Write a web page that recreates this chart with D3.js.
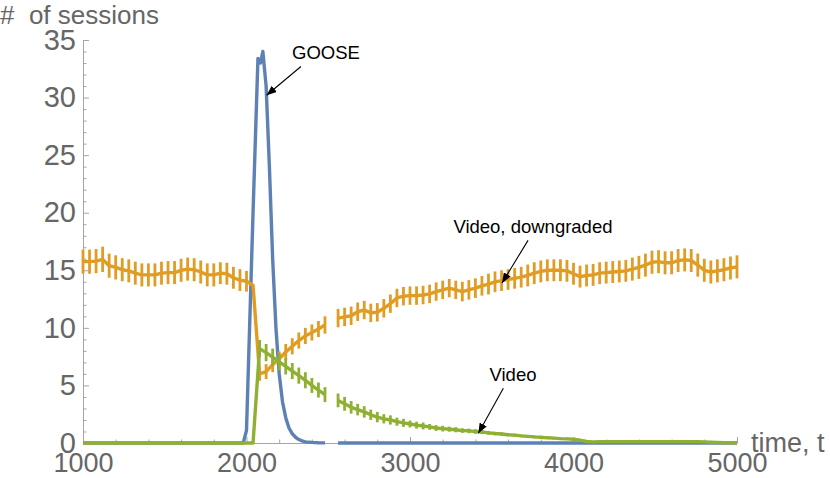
<!DOCTYPE html>
<html><head><meta charset="utf-8">
<script src="https://cdn.jsdelivr.net/npm/d3@7/dist/d3.min.js"></script>
<style>body{margin:0;background:#fff}svg{display:block}</style>
</head><body>
<svg id="chart" width="830" height="478"></svg>
<script>
// ---- data ----
const times = d3.range(1000, 5001, 40); // sampling grid of the simulation (101 points)

const downgradedValues = [
  15.75, 15.75, 15.8, 15.95, 15.4, 15.25, 15.05, 14.95, 14.75, 14.6,
  14.6, 14.6, 14.75, 14.8, 14.8, 15.0, 15.1, 15.05, 14.85, 14.6,
  14.6, 14.75, 14.7, 14.35, 14.15, 14.05, 13.7, 6.0, 6.2, 6.8,
  7.3, 7.9, 8.4, 8.9, 9.3, 9.6, 9.9, 10.25, null, 10.85,
  10.95, 11.05, 11.4, 11.55, 11.3, 11.35, 11.7, 12.1, 12.6, 12.75,
  12.8, 12.8, 12.85, 12.95, 13.15, 13.3, 13.45, 13.3, 13.15, 13.3,
  13.45, 13.65, 13.8, 14.0, 14.1, 14.2, 14.3, 14.4, 14.55, 14.75,
  14.9, 15.0, 15.0, 15.0, 14.95, 14.7, 14.45, 14.55, 14.6, 14.75,
  14.8, 14.85, 14.9, 14.95, 15.1, 15.25, 15.45, 15.7, 15.75, 15.65,
  15.65, 15.85, 15.9, 15.85, 15.45, 15.0, 14.85, 14.95, 15.05, 15.2,
  15.3
];
const downgradedErrors = [
  1.05, 1.05, 1.05, 1.1, 1.05, 1.05, 1.0, 1.0, 1.0, 1.0,
  1.0, 1.0, 1.0, 1.0, 1.0, 1.0, 1.0, 1.0, 1.0, 1.0,
  1.0, 0.95, 0.95, 0.95, 0.95, 0.9, 0, 0.6, 0.65, 0.65,
  0.65, 0.7, 0.7, 0.7, 0.7, 0.7, 0.7, 0.75, 0, 0.8,
  0.8, 0.8, 0.8, 0.8, 0.8, 0.8, 0.8, 0.8, 0.8, 0.8,
  0.8, 0.8, 0.8, 0.8, 0.8, 0.8, 0.8, 0.8, 0.85, 0.85,
  0.85, 0.85, 0.9, 0.9, 0.9, 0.9, 0.9, 0.9, 0.95, 0.95,
  0.95, 0.95, 0.95, 0.95, 0.95, 0.95, 0.95, 0.95, 0.95, 0.95,
  0.95, 0.95, 0.95, 0.95, 1.0, 1.0, 1.0, 1.0, 1.0, 1.0,
  1.0, 1.0, 1.0, 1.0, 1.0, 1.0, 1.0, 1.0, 1.0, 1.0,
  1.0
];
const videoValues = [
  0, 0, 0, 0, 0, 0, 0, 0, 0, 0,
  0, 0, 0, 0, 0, 0, 0, 0, 0, 0,
  0, 0, 0, 0, 0, 0, 0, 8.2, 7.85, 7.45,
  7.05, 6.65, 6.25, 5.85, 5.45, 5.0, 4.6, 4.2, null, 3.7,
  3.4, 3.1, 2.9, 2.7, 2.45, 2.25, 2.1, 2.0, 1.85, 1.75,
  1.65, 1.55, 1.48, 1.4, 1.3, 1.25, 1.2, 1.15, 1.08, 1.05,
  1.0, 0.95, 0.88, 0.82, 0.78, 0.72, 0.68, 0.62, 0.58, 0.53,
  0.5, 0.45, 0.42, 0.38, 0.36, 0.33, 0.25, 0.13, 0.1, 0.12,
  0.12, 0.12, 0.12, 0.12, 0.12, 0.12, 0.12, 0.12, 0.12, 0.12,
  0.12, 0.12, 0.12, 0.12, 0.12, 0.1, 0.07, 0.04, 0.02, 0.01,
  0
];
const videoErrors = [
  0, 0, 0, 0, 0, 0, 0, 0, 0, 0,
  0, 0, 0, 0, 0, 0, 0, 0, 0, 0,
  0, 0, 0, 0, 0, 0, 0, 0.75, 0.75, 0.75,
  0.75, 0.7, 0.7, 0.7, 0.7, 0.65, 0.65, 0.65, 0, 0.6,
  0.6, 0.55, 0.5, 0.5, 0.45, 0.45, 0.4, 0.4, 0.35, 0.35,
  0.3, 0.3, 0.3, 0.25, 0.25, 0.25, 0.22, 0.22, 0.2, 0.2,
  0.2, 0.18, 0.16, 0.15, 0.15, 0.14, 0.13, 0.12, 0.12, 0.12,
  0.1, 0.1, 0.1, 0.1, 0.1, 0.1, 0.08, 0.06, 0.05, 0.05,
  0.05, 0.05, 0.05, 0.05, 0.05, 0.05, 0.05, 0.05, 0.05, 0.05,
  0.05, 0.05, 0.05, 0.05, 0.05, 0.04, 0.03, 0.02, 0.01, 0.01,
  0
];
const gooseTimes  = [1000, 1980, 2000, 2040, 2070, 2085, 2100, 2120, 2140, 2160, 2180, 2200, 2220, 2240, 2260, 2280, 2300, 2320, 2340, 2360, 2400, 2440, 2480, 2520, 2560, 5000];
const gooseValues = [0, 0, 1.1, 20, 33.4, 33.0, 34.0, 31, 24, 16, 10, 6, 3.6, 2.2, 1.3, 0.8, 0.5, 0.3, 0.18, 0.1, 0.05, 0.02, 0.01, null, 0, 0];

const xTicks = [1000, 2000, 3000, 4000, 5000];
const yTicks = [0, 5, 10, 15, 20, 25, 30, 35];
const yLabel = "#  of sessions";
const xLabel = "time, t";
const seriesNames = ["GOOSE", "Video, downgraded", "Video"];
const colors = ["#5E81B5", "#E19C24", "#8FB032"];

// ---- chart ----
const svg = d3.select("#chart");
const x = d3.scaleLinear().domain([1000, 5000]).range([83, 737]);
const y = d3.scaleLinear().domain([0, 35]).range([443, 40]);
const axisColor = "#a6a6a6", labelColor = "#666666";
const font = "'Liberation Sans', Arial, Helvetica, sans-serif";

const defs = svg.append("defs");
defs.append("marker").attr("id", "arrow").attr("viewBox", "0 0 10 8")
  .attr("refX", 10).attr("refY", 4).attr("markerWidth", 10).attr("markerHeight", 8)
  .attr("markerUnits", "userSpaceOnUse").attr("orient", "auto")
  .append("path").attr("d", "M0,0 L10,4 L0,8 Z").attr("fill", "#000");

// minor ticks
const yMinor = d3.range(0, 36, 1).filter(v => v % 5 !== 0);
const xMinor = d3.range(1000, 5001, 200).filter(v => v % 1000 !== 0);

const gy = svg.append("g").attr("transform", "translate(83,0)");
gy.call(d3.axisLeft(y).tickValues(yTicks).tickSize(-6).tickSizeOuter(0).tickPadding(7));
gy.append("g").call(d3.axisLeft(y).tickValues(yMinor).tickSize(-3.5).tickSizeOuter(0).tickFormat(""))
  .select(".domain").remove();
gy.selectAll(".tick text").attr("font-size", 29);

const gx = svg.append("g").attr("transform", "translate(0,443)");
gx.call(d3.axisBottom(x).tickValues(xTicks).tickSize(-6).tickSizeOuter(0).tickPadding(10).tickFormat(d3.format("d")));
gx.append("g").call(d3.axisBottom(x).tickValues(xMinor).tickSize(-3.5).tickSizeOuter(0).tickFormat(""))
  .select(".domain").remove();
gx.selectAll(".tick text").attr("font-size", 27);

svg.selectAll(".domain, .tick line").attr("stroke", axisColor).attr("stroke-width", 1);
svg.selectAll(".tick text").attr("fill", labelColor).attr("font-family", font);

svg.append("text").attr("x", 0).attr("y", 24).attr("xml:space", "preserve")
  .style("white-space", "pre")
  .attr("font-family", font).attr("font-size", 26).attr("fill", labelColor).text(yLabel);
svg.append("text").attr("x", 751).attr("y", 452)
  .attr("font-family", font).attr("font-size", 27).attr("fill", labelColor).text(xLabel);

const plot = svg.append("g");

function drawSeries(vals, errs, ts, color) {
  const pts = ts.map((t, i) => ({t, v: vals[i], e: errs ? errs[i] : 0}));
  plot.append("path").datum(pts)
    .attr("fill", "none").attr("stroke", color).attr("stroke-width", 3.4)
    .attr("stroke-linejoin", "round").attr("stroke-linecap", "butt")
    .attr("d", d3.line().defined(d => d.v != null).x(d => x(d.t)).y(d => y(d.v)));
  if (errs) {
    plot.append("g").selectAll("line").data(pts.filter(d => d.v != null && d.e > 0)).join("line")
      .attr("x1", d => x(d.t)).attr("x2", d => x(d.t))
      .attr("y1", d => y(d.v - d.e)).attr("y2", d => y(d.v + d.e))
      .attr("stroke", color).attr("stroke-width", 2.8);
  }
}
drawSeries(gooseValues, null, gooseTimes, colors[0]);
drawSeries(downgradedValues, downgradedErrors, times, colors[1]);
drawSeries(videoValues, videoErrors, times, colors[2]);

// annotations (data coordinates)
const notes = [
  {text: seriesNames[0], tx: 2486, ty: 33.35, from: [2333, 32.7], to: [2123, 30.2]},
  {text: seriesNames[1], tx: 3752, ty: 18.2, from: [3722, 17.6], to: [3563, 13.9]},
  {text: seriesNames[2], tx: 3630, ty: 5.4, from: [3571, 4.75], to: [3418, 0.85]}
];
notes.forEach(n => {
  svg.append("text").attr("x", x(n.tx)).attr("y", y(n.ty)).attr("text-anchor", "middle")
    .attr("font-family", font).attr("font-size", 18.5).attr("fill", "#000").text(n.text);
  svg.append("line").attr("x1", x(n.from[0])).attr("y1", y(n.from[1]))
    .attr("x2", x(n.to[0])).attr("y2", y(n.to[1]))
    .attr("stroke", "#000").attr("stroke-width", 1.1).attr("marker-end", "url(#arrow)");
});
</script>
</body></html>
